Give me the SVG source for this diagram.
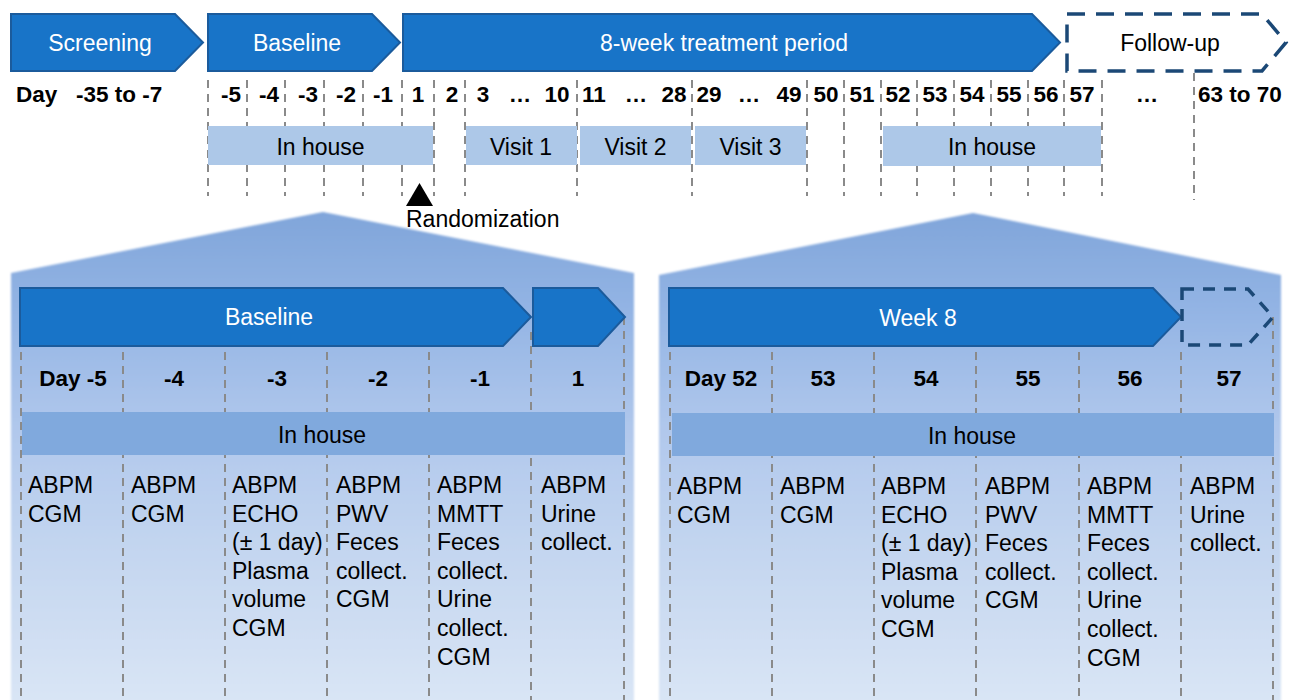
<svg xmlns="http://www.w3.org/2000/svg" width="1289" height="700" viewBox="0 0 1289 700">
<defs>
<style>
text{font-family:"Liberation Sans",Arial,Helvetica,sans-serif;}
.arrow{fill:#1874C8;stroke:#1B5B9C;stroke-width:2;stroke-linejoin:miter;}
.wlbl{fill:#FFFFFF;font-size:23px;text-anchor:middle;}
.lbl{fill:#000000;font-size:23px;}
.mid{text-anchor:middle;}
.num{fill:#000000;font-size:22.5px;font-weight:bold;text-anchor:middle;}
.box{fill:#ADC8E8;}
.bar{fill:#80A9DD;}
.grid{stroke:#8A8A8A;stroke-width:2;stroke-dasharray:8 6;fill:none;}
.dashbig{fill:none;stroke:#1B4876;stroke-width:3.5;stroke-dasharray:18 11;}
.dashsm{fill:none;stroke:#1B4876;stroke-width:3.5;stroke-dasharray:12 9;}
.panel{fill:url(#pg);filter:url(#soft);}
</style>
<linearGradient id="pg" gradientUnits="userSpaceOnUse" x1="0" y1="212" x2="0" y2="700">
<stop offset="0" stop-color="#80A5DA"/>
<stop offset="0.2" stop-color="#93B4E4"/>
<stop offset="0.45" stop-color="#B1C8EC"/>
<stop offset="0.7" stop-color="#C4D6F0"/>
<stop offset="1" stop-color="#D9E5F5"/>
</linearGradient>
<filter id="soft" x="-5%" y="-5%" width="110%" height="110%">
<feGaussianBlur stdDeviation="1.2"/>
</filter>
</defs>
<rect width="1289" height="700" fill="#FFFFFF"/>

<!-- bottom panels backgrounds -->
<g id="panel-baseline-bg">
<polygon class="panel" points="11,273 323,212 634,273 634,702 11,702"/>
</g>
<g id="panel-week8-bg">
<polygon class="panel" points="659,275 973,213 1281,275 1281,702 659,702"/>
</g>

<!-- grid lines -->
<g id="gridlines">
<g class="grid">
<line x1="208" y1="80" x2="208" y2="196"/>
<line x1="247" y1="80" x2="247" y2="196"/>
<line x1="285" y1="80" x2="285" y2="196"/>
<line x1="324" y1="80" x2="324" y2="196"/>
<line x1="363" y1="80" x2="363" y2="196"/>
<line x1="402" y1="80" x2="402" y2="196"/>
<line x1="434" y1="80" x2="434" y2="196"/>
<line x1="465" y1="80" x2="465" y2="196"/>
<line x1="577" y1="80" x2="577" y2="196"/>
<line x1="692" y1="80" x2="692" y2="196"/>
<line x1="807" y1="80" x2="807" y2="196"/>
<line x1="844" y1="80" x2="844" y2="196"/>
<line x1="881" y1="80" x2="881" y2="196"/>
<line x1="917" y1="80" x2="917" y2="196"/>
<line x1="954" y1="80" x2="954" y2="196"/>
<line x1="991" y1="80" x2="991" y2="196"/>
<line x1="1028" y1="80" x2="1028" y2="196"/>
<line x1="1064" y1="80" x2="1064" y2="196"/>
<line x1="1102" y1="80" x2="1102" y2="196"/>
<line x1="1194" y1="73" x2="1194" y2="200"/>

<line x1="21" y1="352" x2="21" y2="700"/>
<line x1="123" y1="352" x2="123" y2="700"/>
<line x1="225" y1="352" x2="225" y2="700"/>
<line x1="327" y1="352" x2="327" y2="700"/>
<line x1="429" y1="352" x2="429" y2="700"/>
<line x1="531" y1="332" x2="531" y2="700"/>
<line x1="624" y1="317" x2="624" y2="700"/>

<line x1="670" y1="352" x2="670" y2="700"/>
<line x1="772" y1="352" x2="772" y2="700"/>
<line x1="874" y1="352" x2="874" y2="700"/>
<line x1="976" y1="352" x2="976" y2="700"/>
<line x1="1079" y1="352" x2="1079" y2="700"/>
<line x1="1181" y1="352" x2="1181" y2="700"/>
<line x1="1273" y1="317" x2="1273" y2="700"/>
</g>
</g>

<!-- top phase arrows -->
<g id="screening">
<polygon class="arrow" points="11,14 175,14 203,42.5 175,71 11,71"/>
<text class="wlbl" x="100" y="51">Screening</text>
</g>
<g id="baseline">
<polygon class="arrow" points="208,14 372,14 400,42.5 372,71 208,71"/>
<text class="wlbl" x="297" y="51">Baseline</text>
</g>
<g id="treatment">
<polygon class="arrow" points="403,14 1032,14 1060,42.5 1032,71 403,71"/>
<text class="wlbl" x="724" y="51">8-week treatment period</text>
</g>
<g id="followup">
<polygon class="dashbig" points="1067,14 1262,14 1286,42.5 1262,71 1067,71"/>
<text class="lbl mid" x="1170" y="51">Follow-up</text>
</g>

<!-- day labels top -->
<g id="day-row">
<text class="num" x="16" y="102" style="text-anchor:start">Day</text>
<text class="num" x="76" y="102" style="text-anchor:start">-35 to -7</text>
<text class="num" x="231" y="102">-5</text>
<text class="num" x="269" y="102">-4</text>
<text class="num" x="308" y="102">-3</text>
<text class="num" x="346" y="102">-2</text>
<text class="num" x="383" y="102">-1</text>
<text class="num" x="418" y="102">1</text>
<text class="num" x="452" y="102">2</text>
<text class="num" x="483" y="102">3</text>
<text class="num" x="520" y="102">…</text>
<text class="num" x="557" y="102">10</text>
<text class="num" x="594" y="102">11</text>
<text class="num" x="636" y="102">…</text>
<text class="num" x="674" y="102">28</text>
<text class="num" x="709" y="102">29</text>
<text class="num" x="749" y="102">…</text>
<text class="num" x="789" y="102">49</text>
<text class="num" x="826" y="102">50</text>
<text class="num" x="862" y="102">51</text>
<text class="num" x="898" y="102">52</text>
<text class="num" x="935" y="102">53</text>
<text class="num" x="972" y="102">54</text>
<text class="num" x="1009" y="102">55</text>
<text class="num" x="1046" y="102">56</text>
<text class="num" x="1082" y="102">57</text>
<text class="num" x="1147" y="102">…</text>
<text class="num" x="1198" y="102" style="text-anchor:start">63 to 70</text>
</g>

<!-- top boxes -->
<g id="inhouse-top-1">
<rect class="box" x="208" y="126" width="225" height="39"/>
<text class="lbl mid" x="320.5" y="155">In house</text>
</g>
<g id="visit1">
<rect class="box" x="466" y="126" width="111" height="39"/>
<text class="lbl mid" x="521" y="155">Visit 1</text>
</g>
<g id="visit2">
<rect class="box" x="580" y="126" width="111" height="39"/>
<text class="lbl mid" x="635.5" y="155">Visit 2</text>
</g>
<g id="visit3">
<rect class="box" x="695" y="126" width="111" height="39"/>
<text class="lbl mid" x="750.5" y="155">Visit 3</text>
</g>
<g id="inhouse-top-2">
<rect class="box" x="883" y="126" width="218" height="40"/>
<text class="lbl mid" x="992" y="155">In house</text>
</g>

<g id="randomization">
<polygon points="406,206 433,206 419.5,183" fill="#000000"/>
<text class="lbl" x="406" y="227">Randomization</text>
</g>

<!-- left panel content -->
<g id="panel-baseline">
<polygon class="arrow" points="20,288 503,288 531,317 503,346 20,346"/>
<text class="wlbl" x="269" y="325">Baseline</text>
<polygon class="arrow" points="533,288 598,288 625,317 598,346 533,346"/>
<text class="num" x="73" y="386">Day -5</text>
<text class="num" x="174" y="386">-4</text>
<text class="num" x="277" y="386">-3</text>
<text class="num" x="378" y="386">-2</text>
<text class="num" x="480" y="386">-1</text>
<text class="num" x="578" y="386">1</text>
<rect class="bar" x="22" y="412" width="603" height="43"/>
<text class="lbl mid" x="322" y="443">In house</text>
<text class="lbl" x="28" y="493"><tspan x="28">ABPM</tspan><tspan x="28" dy="28.6">CGM</tspan></text>
<text class="lbl" x="131" y="493"><tspan x="131">ABPM</tspan><tspan x="131" dy="28.6">CGM</tspan></text>
<text class="lbl" x="232" y="493"><tspan x="232">ABPM</tspan><tspan x="232" dy="28.6">ECHO</tspan><tspan x="232" dy="28.6">(± 1 day)</tspan><tspan x="232" dy="28.6">Plasma</tspan><tspan x="232" dy="28.6">volume</tspan><tspan x="232" dy="28.6">CGM</tspan></text>
<text class="lbl" x="336" y="493"><tspan x="336">ABPM</tspan><tspan x="336" dy="28.6">PWV</tspan><tspan x="336" dy="28.6">Feces</tspan><tspan x="336" dy="28.6">collect.</tspan><tspan x="336" dy="28.6">CGM</tspan></text>
<text class="lbl" x="437" y="493"><tspan x="437">ABPM</tspan><tspan x="437" dy="28.6">MMTT</tspan><tspan x="437" dy="28.6">Feces</tspan><tspan x="437" dy="28.6">collect.</tspan><tspan x="437" dy="28.6">Urine</tspan><tspan x="437" dy="28.6">collect.</tspan><tspan x="437" dy="28.6">CGM</tspan></text>
<text class="lbl" x="541" y="493"><tspan x="541">ABPM</tspan><tspan x="541" dy="28.6">Urine</tspan><tspan x="541" dy="28.6">collect.</tspan></text>
</g>

<!-- right panel content -->
<g id="panel-week8">
<polygon class="arrow" points="669,288 1153,288 1181,317 1153,346 669,346"/>
<text class="wlbl" x="918" y="326">Week 8</text>
<polygon class="dashsm" points="1182,289 1248,289 1273,317 1248,345 1182,345"/>
<text class="num" x="721" y="386">Day 52</text>
<text class="num" x="823" y="386">53</text>
<text class="num" x="926" y="386">54</text>
<text class="num" x="1028" y="386">55</text>
<text class="num" x="1130" y="386">56</text>
<text class="num" x="1229" y="386">57</text>
<rect class="bar" x="672" y="413" width="602" height="43"/>
<text class="lbl mid" x="972" y="444">In house</text>
<text class="lbl" x="677" y="494"><tspan x="677">ABPM</tspan><tspan x="677" dy="28.6">CGM</tspan></text>
<text class="lbl" x="780" y="494"><tspan x="780">ABPM</tspan><tspan x="780" dy="28.6">CGM</tspan></text>
<text class="lbl" x="881" y="494"><tspan x="881">ABPM</tspan><tspan x="881" dy="28.6">ECHO</tspan><tspan x="881" dy="28.6">(± 1 day)</tspan><tspan x="881" dy="28.6">Plasma</tspan><tspan x="881" dy="28.6">volume</tspan><tspan x="881" dy="28.6">CGM</tspan></text>
<text class="lbl" x="985" y="494"><tspan x="985">ABPM</tspan><tspan x="985" dy="28.6">PWV</tspan><tspan x="985" dy="28.6">Feces</tspan><tspan x="985" dy="28.6">collect.</tspan><tspan x="985" dy="28.6">CGM</tspan></text>
<text class="lbl" x="1087" y="494"><tspan x="1087">ABPM</tspan><tspan x="1087" dy="28.6">MMTT</tspan><tspan x="1087" dy="28.6">Feces</tspan><tspan x="1087" dy="28.6">collect.</tspan><tspan x="1087" dy="28.6">Urine</tspan><tspan x="1087" dy="28.6">collect.</tspan><tspan x="1087" dy="28.6">CGM</tspan></text>
<text class="lbl" x="1190" y="494"><tspan x="1190">ABPM</tspan><tspan x="1190" dy="28.6">Urine</tspan><tspan x="1190" dy="28.6">collect.</tspan></text>
</g>
</svg>
